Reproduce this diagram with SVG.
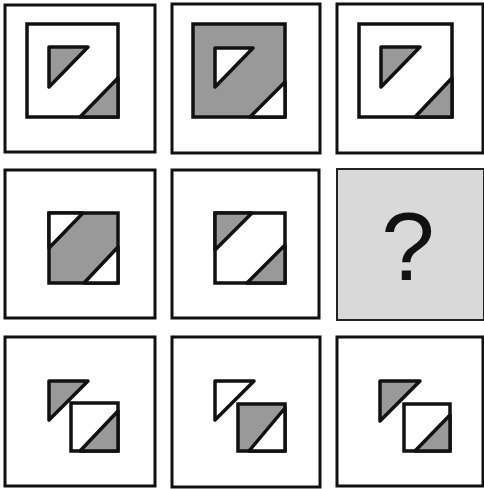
<svg xmlns="http://www.w3.org/2000/svg" width="484" height="489" viewBox="0 0 484 489">
<style>
.cell{fill:#fff;stroke:#111;stroke-width:3}
.sq{fill:#fff;stroke:#111;stroke-width:3.5;stroke-linejoin:miter}
.g{fill:#999;stroke:#111;stroke-width:3.5;stroke-linejoin:round}
.w{fill:#fff;stroke:#111;stroke-width:3.5;stroke-linejoin:round}
.gf{fill:#999;stroke:#111;stroke-width:3.5}
.q{fill:#d9d9d9;stroke:#222;stroke-width:2}
</style>
<rect width="484" height="489" fill="#fff"/>
<g id="cell-1-1">
<rect class="cell" x="5" y="5" width="150" height="147"/>
<rect class="sq" x="27" y="24" width="91" height="93"/>
<polygon class="g" points="49,47 88,47 49,87"/>
<polygon class="g" points="80,117 118,117 118,78"/>
</g>
<g id="cell-1-2">
<rect class="cell" x="172" y="4" width="148" height="149"/>
<rect class="gf" x="193" y="24" width="92" height="93"/>
<polygon class="w" points="215,48 253,48 215,87"/>
<polygon class="w" points="250,117 285,117 285,82"/>
</g>
<g id="cell-1-3">
<rect class="cell" x="337" y="4" width="146" height="149"/>
<rect class="sq" x="359" y="24" width="93" height="93"/>
<polygon class="g" points="381,47 420,47 381,87"/>
<polygon class="g" points="415,117 452,117 452,78"/>
</g>
<g id="cell-2-1">
<rect class="cell" x="5" y="170" width="150" height="148"/>
<rect class="gf" x="49" y="213" width="69" height="70"/>
<polygon class="w" points="49,213 83,213 49,248"/>
<polygon class="w" points="84,283 118,283 118,247"/>
</g>
<g id="cell-2-2">
<rect class="cell" x="172" y="170" width="147" height="148"/>
<rect class="sq" x="215" y="213" width="70" height="70"/>
<polygon class="g" points="215,213 252,213 215,250"/>
<polygon class="g" points="247,283 285,283 285,245"/>
</g>
<g id="cell-2-3">
<rect class="q" x="337" y="169" width="147" height="151"/>
<text x="408" y="280" font-family="Liberation Sans, Arial, sans-serif" font-size="96" text-anchor="middle" fill="#111">?</text>
</g>
<g id="cell-3-1">
<rect class="cell" x="5" y="337" width="150" height="149"/>
<polygon class="g" points="49,381 88,381 49,420"/>
<rect class="sq" x="71" y="403" width="47" height="48"/>
<polygon class="g" points="80,451 118,451 118,411"/>
</g>
<g id="cell-3-2">
<rect class="cell" x="172" y="337" width="148" height="150"/>
<polygon class="w" points="215,381 254,381 215,420"/>
<rect class="gf" x="238" y="404" width="47" height="47"/>
<polygon class="w" points="249,451 285,451 285,408"/>
</g>
<g id="cell-3-3">
<rect class="cell" x="337" y="337" width="146" height="149"/>
<polygon class="g" points="380,381 420,381 380,421"/>
<rect class="sq" x="404" y="404" width="46" height="47"/>
<polygon class="g" points="415,451 450,451 450,415"/>
</g>
</svg>
